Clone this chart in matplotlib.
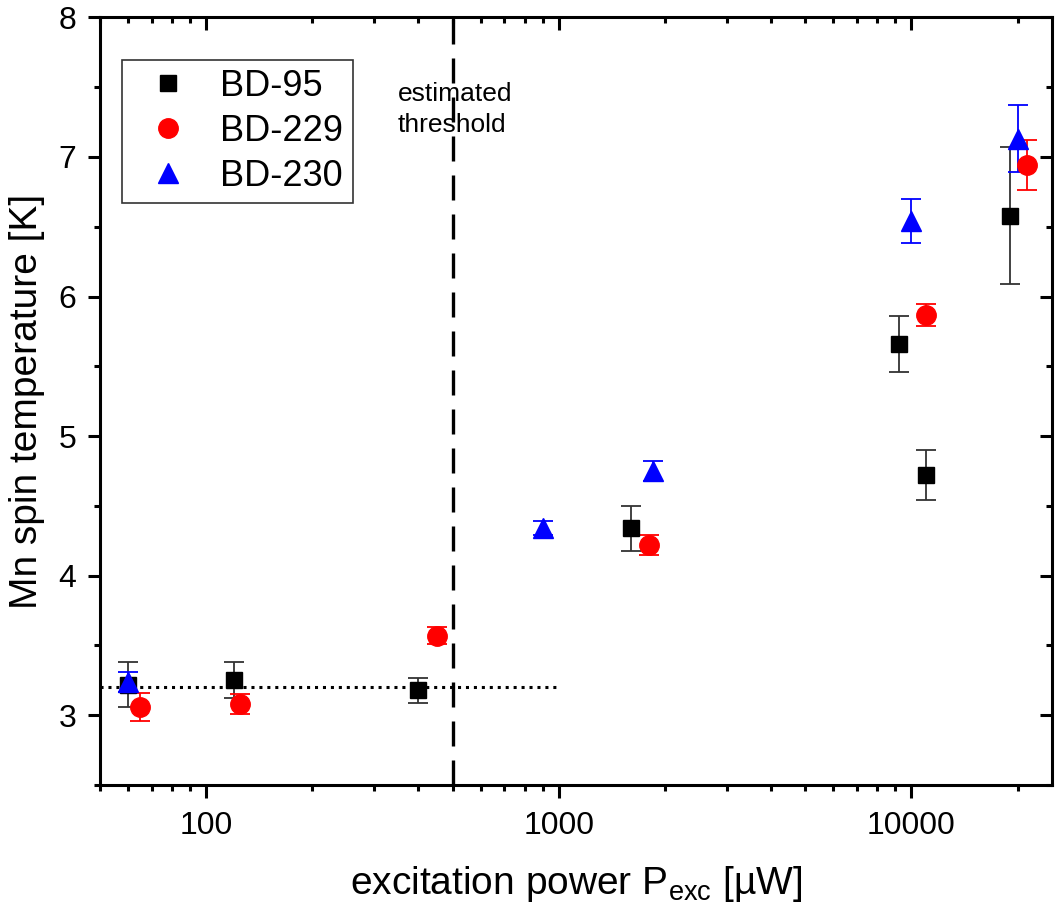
import matplotlib
matplotlib.use("Agg")
import matplotlib.pyplot as plt
from matplotlib.ticker import LogLocator, FixedLocator, FixedFormatter, NullFormatter
from matplotlib.lines import Line2D, TICKDOWN, TICKLEFT
import numpy

plt.rcParams['font.family'] = ['Liberation Sans', 'DejaVu Sans']

# BD-95 (black squares)
p95 = [60, 120, 400, 1600, 9200, 11000, 19000]
t95 = [3.22, 3.25, 3.18, 4.34, 5.66, 4.72, 6.58]
e95 = [0.16, 0.13, 0.09, 0.16, 0.20, 0.18, 0.49]

# BD-229 (red circles)
p229 = [65, 125, 450, 1800, 11000, 21300]
t229 = [3.06, 3.08, 3.57, 4.22, 5.87, 6.94]
e229 = [0.10, 0.07, 0.06, 0.07, 0.08, 0.18]

# BD-230 (blue triangles)
p230 = [60, 900, 1850, 10000, 20000]
t230 = [3.24, 4.34, 4.75, 6.54, 7.13]
e230 = [0.07, 0.05, 0.07, 0.16, 0.24]

threshold = 500
baseline = 3.2
baseline_range = [50, 1000]

fig = plt.figure(figsize=(10.56, 9.16), dpi=100)
ax = fig.add_axes([0.0947, 0.143, 0.9013, 0.838])

ax.plot(baseline_range, [baseline, baseline], color="black", linestyle=(0, (1, 1.6)), linewidth=2.2)
ax.axvline(threshold, color="black", linestyle=(0, (7.5, 4.2)), linewidth=2.4)

series = [
    (p95, t95, e95, "s", "black", "#333333", 11, "BD-95"),
    (p229, t229, e229, "o", "red", "red", 14, "BD-229"),
    (p230, t230, e230, "^", "blue", "blue", 14, "BD-230"),
]
handles = []
for px, ty, ey, mk, col, ecol, ms, lab in series:
    ax.errorbar(px, ty, yerr=ey, fmt=mk, color=col, ecolor=ecol, markersize=ms,
                elinewidth=1.3, capsize=7, capthick=1.3, zorder=3)
    handles.append(Line2D([], [], linestyle="none", marker=mk, color=col, markersize=ms, label=lab))

ax.set_xscale("log")
ax.set_xlim(50, 25000)
ax.set_ylim(2.5, 8)
ax.xaxis.set_major_locator(FixedLocator([100, 1000, 10000]))
ax.xaxis.set_major_formatter(FixedFormatter(["100", "1000", "10000"]))
ax.xaxis.set_minor_locator(LogLocator(base=10, subs=numpy.arange(2, 10)))
ax.xaxis.set_minor_formatter(NullFormatter())
ax.yaxis.set_major_locator(FixedLocator([3, 4, 5, 6, 7, 8]))
ax.yaxis.set_minor_locator(FixedLocator([2.5, 3.5, 4.5, 5.5, 6.5, 7.5]))

for s in ax.spines.values():
    s.set_linewidth(2.2)
ax.tick_params(which="both", direction="out", width=2.2, labelsize=23,
               top=True, right=True, labeltop=False, labelright=False)
ax.tick_params(which="major", length=9, pad=10)
ax.tick_params(which="minor", length=4.5)
ax.tick_params(axis="y", which="major", pad=8)

# top/right ticks point inward
for t in ax.xaxis.get_major_ticks() + ax.xaxis.get_minor_ticks():
    t.tick2line.set_marker(TICKDOWN)
for t in ax.yaxis.get_major_ticks() + ax.yaxis.get_minor_ticks():
    t.tick2line.set_marker(TICKLEFT)

ax.set_xlabel(r"excitation power P$_{\mathregular{exc}}$ [µW]", fontsize=28, labelpad=16)
ax.set_ylabel("Mn spin temperature [K]", fontsize=28, labelpad=10)

ax.text(350, 7.34, "estimated\nthreshold", fontsize=19, va="center", ha="left", linespacing=1.4)

leg = ax.legend(handles=handles, loc="upper left", bbox_to_anchor=(0.023, 0.945), fontsize=26,
                frameon=True, fancybox=False, edgecolor="black", handletextpad=0.42,
                borderpad=0.26, labelspacing=0.27, handlelength=2.05, borderaxespad=0)
leg.get_frame().set_linewidth(1.2)

fig.savefig("out.png", dpi=100)
